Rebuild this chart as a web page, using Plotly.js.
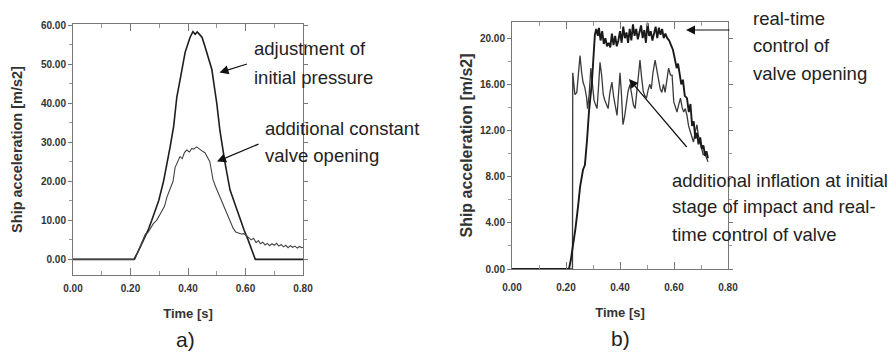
<!DOCTYPE html>
<html>
<head>
<meta charset="utf-8">
<script src="https://cdn.plot.ly/plotly-3.0.1.min.js"></script>
<style>html,body{margin:0;padding:0;background:#fff;}#chart{width:896px;height:352px;}</style>
</head>
<body>
<div id="chart"></div>
<script>
// ---- Panel a) : adjustment of initial pressure (thick) ----
const timeA = [0, 0.212, 0.225, 0.24, 0.25, 0.262, 0.274, 0.285, 0.298, 0.315, 0.326, 0.337, 0.35, 0.361, 0.375, 0.39, 0.407, 0.417, 0.425, 0.432, 0.44, 0.449, 0.459, 0.47, 0.483, 0.492, 0.5, 0.511, 0.528, 0.546, 0.565, 0.581, 0.595, 0.609, 0.622, 0.634, 0.8];
const accelA = [0, 0, 1.8, 4.2, 5.7, 7.6, 10.0, 12.2, 15.0, 20.0, 24.0, 28.5, 34.0, 41.5, 47.0, 53.0, 56.8, 58.3, 57.6, 58.2, 57.6, 56.8, 54.5, 51.5, 48.6, 44.0, 40.0, 33.0, 25.0, 17.8, 13.6, 10.0, 7.5, 5.0, 2.5, 0, 0];

// ---- Panel a) : additional constant valve opening (thin) ----
const timeB = [0, 0.215, 0.225, 0.235, 0.244, 0.252, 0.26, 0.27, 0.28, 0.291, 0.3, 0.31, 0.318, 0.327, 0.335, 0.348, 0.355, 0.362, 0.372, 0.38, 0.388, 0.396, 0.405, 0.413, 0.42, 0.43, 0.438, 0.446, 0.452, 0.459, 0.466, 0.476, 0.482, 0.487, 0.495, 0.503, 0.511, 0.52, 0.528, 0.535, 0.546, 0.557, 0.566, 0.575, 0.585, 0.595, 0.605, 0.612, 0.62, 0.628, 0.637, 0.645, 0.652, 0.66, 0.668, 0.676, 0.684, 0.692, 0.7, 0.708, 0.716, 0.724, 0.732, 0.74, 0.748, 0.756, 0.764, 0.772, 0.78, 0.788, 0.796, 0.8];
const accelB = [0, 0, 1.8, 3.6, 5.0, 6.5, 6.8, 8.0, 9.2, 10.0, 11.2, 12.7, 13.5, 16.0, 17.5, 20.0, 23.5, 24.5, 26.3, 25.8, 27.4, 28.0, 27.5, 28.4, 28.2, 28.8, 28.3, 28.0, 27.6, 27.3, 26.2, 25.0, 22.5, 20.4, 18.8, 17.4, 16.0, 14.2, 12.8, 12.0, 10.0, 8.0, 7.0, 6.8, 6.5, 6.6, 5.8, 5.5, 5.0, 5.4, 4.3, 4.8, 4.0, 4.4, 3.7, 4.1, 3.5, 4.0, 3.6, 4.1, 3.4, 3.8, 3.2, 3.6, 3.0, 3.5, 3.1, 3.4, 2.9, 3.3, 3.0, 3.1];

// ---- Panel b) : real-time control of valve opening (thick) ----
const timeC = [0, 0.211, 0.218, 0.226, 0.235, 0.245, 0.252, 0.263, 0.27, 0.278, 0.285, 0.296, 0.303, 0.307, 0.312, 0.318, 0.322, 0.328, 0.334, 0.34, 0.346, 0.352, 0.358, 0.364, 0.37, 0.376, 0.382, 0.388, 0.394, 0.4, 0.406, 0.412, 0.418, 0.424, 0.43, 0.436, 0.442, 0.448, 0.454, 0.46, 0.466, 0.472, 0.478, 0.484, 0.49, 0.496, 0.502, 0.508, 0.514, 0.52, 0.526, 0.532, 0.538, 0.544, 0.55, 0.556, 0.562, 0.568, 0.575, 0.582, 0.589, 0.596, 0.603, 0.61, 0.615, 0.621, 0.627, 0.633, 0.64, 0.648, 0.655, 0.661, 0.667, 0.673, 0.679, 0.685, 0.691, 0.697, 0.703, 0.709, 0.715, 0.72, 0.726];
const accelC = [0, 0, 0.8, 1.9, 3.5, 5.5, 7.1, 8.6, 9.0, 11.2, 13.6, 16.2, 18.5, 20.3, 20.8, 20.2, 20.9, 19.8, 20.6, 19.5, 20.0, 19.3, 19.6, 19.2, 20.4, 19.4, 20.2, 19.3, 19.8, 20.6, 19.6, 21.0, 20.0, 20.5, 19.6, 20.8, 19.8, 21.2, 20.2, 20.8, 19.9, 20.6, 21.1, 20.0, 20.7, 19.6, 21.3, 20.2, 20.6, 19.8, 20.5, 21.0, 20.0, 20.9, 20.3, 20.8, 20.0, 20.4, 20.0, 19.8, 19.4, 19.0, 18.2, 17.4, 17.8, 16.9, 16.0, 16.4, 15.0, 14.8, 13.6, 14.3, 12.4, 12.8, 11.3, 11.8, 10.8, 11.4, 10.4, 10.7, 9.8, 10.2, 9.6];

// ---- Panel b) : additional inflation at initial stage + real-time control (thin) ----
const timeD = [0, 0.224, 0.225, 0.233, 0.24, 0.246, 0.252, 0.258, 0.263, 0.27, 0.276, 0.28, 0.286, 0.292, 0.298, 0.304, 0.31, 0.315, 0.32, 0.326, 0.332, 0.338, 0.344, 0.35, 0.356, 0.362, 0.37, 0.376, 0.382, 0.389, 0.394, 0.4, 0.405, 0.411, 0.417, 0.424, 0.43, 0.437, 0.443, 0.45, 0.456, 0.462, 0.468, 0.474, 0.48, 0.486, 0.492, 0.498, 0.504, 0.51, 0.516, 0.522, 0.53, 0.537, 0.543, 0.549, 0.555, 0.561, 0.567, 0.574, 0.58, 0.587, 0.593, 0.599, 0.605, 0.611, 0.617, 0.624, 0.63, 0.636, 0.642, 0.648, 0.654, 0.66, 0.666, 0.672, 0.678, 0.685, 0.69, 0.696, 0.702, 0.708, 0.714, 0.72, 0.726];
const accelD = [0, 0, 17.0, 15.1, 15.3, 17.2, 18.5, 17.0, 16.2, 15.7, 14.9, 13.9, 15.2, 17.4, 16.0, 14.6, 14.2, 13.9, 15.6, 17.9, 16.8, 15.1, 14.6, 14.2, 13.9, 15.2, 16.2, 15.0, 14.0, 13.3, 15.0, 17.0, 15.3, 12.5, 13.2, 14.6, 15.4, 16.0, 15.0, 14.2, 13.9, 15.5, 16.8, 18.1, 16.6, 15.4, 15.0, 14.8, 15.5, 16.0, 15.6, 17.0, 18.1, 17.2, 16.2, 15.6, 15.3, 16.0, 15.3, 16.6, 17.4, 16.8, 16.8, 14.5, 14.0, 13.6, 14.2, 14.8, 14.0, 13.6, 13.9, 13.3, 12.4, 11.9, 11.4, 11.0, 11.8, 12.5, 11.6, 11.0, 10.4, 9.9, 10.0, 9.6, 9.3];

// ---- axis ticks / texts ----
const timeTicks = [0, 0.2, 0.4, 0.6, 0.8];
const xTitle = 'Time [s]';
const yTitle = 'Ship acceleration [m/s2]';

const W = 896, H = 352;
const px = x => x / W;
const py = y => 1 - y / H;

const tickFont = {family: 'Liberation Sans, Arial, sans-serif', size: 10, color: '#333', weight: 'bold'};
const xTitleFont = {family: 'Liberation Sans, Arial, sans-serif', size: 13, color: '#333', weight: 'bold'};
const noteFont = {family: 'Liberation Sans, Arial, sans-serif', size: 18.5, color: '#222'};

const traces = [
  {x: timeA, y: accelA, xaxis: 'x', yaxis: 'y', mode: 'lines', line: {color: '#1e1e1e', width: 1.6}, name: 'adjustment of initial pressure'},
  {x: timeB, y: accelB, xaxis: 'x', yaxis: 'y', mode: 'lines', line: {color: '#444', width: 1.1}, name: 'additional constant valve opening'},
  {x: timeD, y: accelD, xaxis: 'x2', yaxis: 'y2', mode: 'lines', line: {color: '#3a3a3a', width: 1.3}, name: 'additional inflation'},
  {x: timeC, y: accelC, xaxis: 'x2', yaxis: 'y2', mode: 'lines', line: {color: '#1a1a1a', width: 1.9}, name: 'real-time control'}
];

function xAx(domain, anchor, standoff) {
  return {
    domain: domain, anchor: anchor, range: [0, 0.8], tickvals: timeTicks, tickformat: '.2f',
    ticks: 'inside', ticklen: 7, tickcolor: '#777', tickwidth: 1,
    minor: {dtick: 0.1, tick0: 0, ticks: 'inside', ticklen: 4, tickcolor: '#999'},
    showline: true, linecolor: '#777', linewidth: 1, mirror: 'ticks',
    showgrid: false, zeroline: false, tickfont: tickFont, ticklabelstandoff: standoff,
    title: {text: xTitle, font: xTitleFont, standoff: 15}, fixedrange: true
  };
}
function yAx(domain, anchor, range, dtick, minorDtick, titleSize, titleStandoff) {
  return {
    domain: domain, anchor: anchor, range: range, tick0: 0, dtick: dtick, tickformat: '.2f',
    ticks: 'outside', ticklen: 4, tickcolor: '#777', tickwidth: 1,
    minor: {dtick: minorDtick, tick0: 0, ticks: 'outside', ticklen: 3, tickcolor: '#999'},
    showline: true, linecolor: '#777', linewidth: 1, mirror: 'ticks',
    showgrid: false, zeroline: false, tickfont: tickFont,
    title: {text: yTitle, font: {family: 'Liberation Sans, Arial, sans-serif', size: titleSize, color: '#333', weight: 'bold'}, standoff: titleStandoff},
    fixedrange: true
  };
}

function note(text, x, y) {
  return {text: text, x: px(x), y: py(y), xref: 'paper', yref: 'paper', xanchor: 'left', yanchor: 'middle', showarrow: false, font: noteFont};
}
function arrow(hx, hy, tx, ty) {
  return {text: '', x: px(hx), y: py(hy), xref: 'paper', yref: 'paper', ax: tx - hx, ay: ty - hy, axref: 'pixel', ayref: 'pixel',
          showarrow: true, arrowhead: 2, arrowsize: 1.5, arrowwidth: 1.2, arrowcolor: '#111', standoff: 0, startstandoff: 0};
}

const annotations = [
  note('adjustment of', 252, 49), note('initial pressure', 252, 77),
  note('additional constant', 263, 128), note('valve opening', 263, 155),
  note('real-time', 751, 19), note('control of', 751, 46), note('valve opening', 751, 73),
  note('additional inflation at initial', 670, 180), note('stage of impact and real-', 670, 207), note('time control of valve', 670, 234),
  arrow(219.5, 72.5, 248.5, 63.5),
  arrow(217, 161.5, 260, 143.5),
  arrow(686, 30, 731, 30),
  arrow(629, 79, 688, 148.5),
  {text: 'a)', x: px(185), y: py(339), xref: 'paper', yref: 'paper', xanchor: 'center', yanchor: 'middle', showarrow: false, font: {family: 'Liberation Sans, Arial, sans-serif', size: 21, color: '#222'}},
  {text: 'b)', x: px(620), y: py(338), xref: 'paper', yref: 'paper', xanchor: 'center', yanchor: 'middle', showarrow: false, font: {family: 'Liberation Sans, Arial, sans-serif', size: 21, color: '#222'}}
];

const layout = {
  width: W, height: H, margin: {l: 0, r: 0, t: 0, b: 0}, showlegend: false,
  paper_bgcolor: '#fff', plot_bgcolor: '#fff',
  xaxis: xAx([73 / W, 303 / W], 'y', 4),
  yaxis: yAx([py(275), py(24)], 'x', [-4, 60.26], 10, 5, 14.5, 14),
  xaxis2: xAx([512 / W, 728 / W], 'y2', 9),
  yaxis2: yAx([py(269), py(22)], 'x2', [0, 21.4], 4, 2, 16, 3),
  annotations: annotations
};

Plotly.newPlot('chart', traces, layout, {staticPlot: true, displayModeBar: false});
</script>
</body>
</html>
